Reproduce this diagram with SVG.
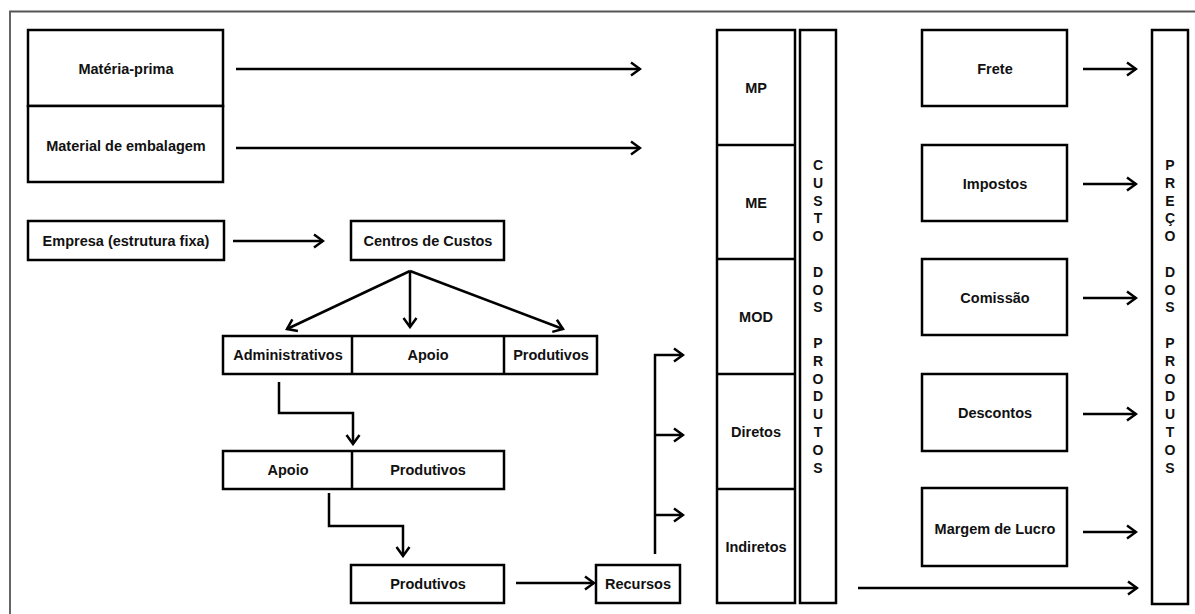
<svg xmlns="http://www.w3.org/2000/svg" width="1195" height="614" viewBox="0 0 1195 614">
<defs>
<style>
.box{fill:#fff;stroke:#000;stroke-width:2.5}
.div{stroke:#000;stroke-width:2.5}
.t{font-family:"Liberation Sans",Arial,sans-serif;font-weight:bold;font-size:14.5px;fill:#111;text-anchor:middle;dominant-baseline:central}
.v{font-family:"Liberation Sans",Arial,sans-serif;font-weight:bold;font-size:14px;fill:#111;text-anchor:middle}
.c{fill:none;stroke:#000;stroke-width:2.5;marker-end:url(#ah)}
.cn{fill:none;stroke:#000;stroke-width:2.5}
</style>
<marker id="ah" markerUnits="userSpaceOnUse" markerWidth="14" markerHeight="16" viewBox="-12 -8 14 16" refX="0" refY="0" orient="auto">
<path d="M-9,-6.5 L0,0 L-9,6.5" fill="none" stroke="#000" stroke-width="2.5"/>
</marker>
</defs>
<rect width="1195" height="614" fill="#fff"/>
<path d="M10,614 V11.5 H1195" fill="none" stroke="#555" stroke-width="1.8"/>

<g id="n-materia-prima"><rect class="box" x="28" y="30" width="195" height="76"/><text class="t" x="126" y="69">Matéria-prima</text></g>
<g id="n-material-embalagem"><rect class="box" x="28" y="106" width="195" height="76"/><text class="t" x="126" y="146">Material de embalagem</text></g>
<g id="n-empresa"><rect class="box" x="28" y="221" width="196" height="39"/><text class="t" x="126" y="241">Empresa (estrutura fixa)</text></g>
<g id="n-centros"><rect class="box" x="351" y="221" width="153" height="39"/><text class="t" x="428" y="241">Centros de Custos</text></g>

<g id="n-row1">
<rect class="box" x="223" y="336" width="374" height="38"/>
<line class="div" x1="352" y1="336" x2="352" y2="374"/>
<line class="div" x1="504" y1="336" x2="504" y2="374"/>
<text class="t" x="288" y="355">Administrativos</text>
<text class="t" x="428" y="355">Apoio</text>
<text class="t" x="551" y="355">Produtivos</text>
</g>
<g id="n-row2">
<rect class="box" x="223" y="451" width="281" height="38"/>
<line class="div" x1="352" y1="451" x2="352" y2="489"/>
<text class="t" x="288" y="470">Apoio</text>
<text class="t" x="428" y="470">Produtivos</text>
</g>
<g id="n-produtivos"><rect class="box" x="351" y="565" width="153" height="38"/><text class="t" x="428" y="584">Produtivos</text></g>
<g id="n-recursos"><rect class="box" x="596" y="565" width="84" height="38"/><text class="t" x="638" y="584">Recursos</text></g>

<g id="n-componentes">
<rect class="box" x="717" y="30" width="78" height="573"/>
<line class="div" x1="717" y1="145" x2="795" y2="145"/>
<line class="div" x1="717" y1="259" x2="795" y2="259"/>
<line class="div" x1="717" y1="374" x2="795" y2="374"/>
<line class="div" x1="717" y1="489" x2="795" y2="489"/>
<text class="t" x="756" y="88">MP</text>
<text class="t" x="756" y="203">ME</text>
<text class="t" x="756" y="317">MOD</text>
<text class="t" x="756" y="432">Diretos</text>
<text class="t" x="756" y="547">Indiretos</text>
</g>

<g id="n-custo">
<rect class="box" x="800" y="30" width="36" height="573"/>
<text class="v" x="818" y="170"><tspan x="818">C</tspan><tspan x="818" dy="17.8">U</tspan><tspan x="818" dy="17.8">S</tspan><tspan x="818" dy="17.8">T</tspan><tspan x="818" dy="17.8">O</tspan><tspan x="818" dy="35.6">D</tspan><tspan x="818" dy="17.8">O</tspan><tspan x="818" dy="17.8">S</tspan><tspan x="818" dy="35.6">P</tspan><tspan x="818" dy="17.8">R</tspan><tspan x="818" dy="17.8">O</tspan><tspan x="818" dy="17.8">D</tspan><tspan x="818" dy="17.8">U</tspan><tspan x="818" dy="17.8">T</tspan><tspan x="818" dy="17.8">O</tspan><tspan x="818" dy="17.8">S</tspan></text>
</g>

<g id="n-frete"><rect class="box" x="922" y="30" width="145" height="76"/><text class="t" x="995" y="69">Frete</text></g>
<g id="n-impostos"><rect class="box" x="922" y="145" width="145" height="76"/><text class="t" x="995" y="184">Impostos</text></g>
<g id="n-comissao"><rect class="box" x="922" y="259" width="145" height="76"/><text class="t" x="995" y="298">Comissão</text></g>
<g id="n-descontos"><rect class="box" x="922" y="374" width="145" height="77"/><text class="t" x="995" y="413">Descontos</text></g>
<g id="n-margem"><rect class="box" x="922" y="488" width="145" height="78"/><text class="t" x="995" y="529">Margem de Lucro</text></g>

<g id="n-preco">
<rect class="box" x="1152" y="30" width="36" height="574"/>
<text class="v" x="1170" y="170"><tspan x="1170">P</tspan><tspan x="1170" dy="17.8">R</tspan><tspan x="1170" dy="17.8">E</tspan><tspan x="1170" dy="17.8">Ç</tspan><tspan x="1170" dy="17.8">O</tspan><tspan x="1170" dy="35.6">D</tspan><tspan x="1170" dy="17.8">O</tspan><tspan x="1170" dy="17.8">S</tspan><tspan x="1170" dy="35.6">P</tspan><tspan x="1170" dy="17.8">R</tspan><tspan x="1170" dy="17.8">O</tspan><tspan x="1170" dy="17.8">D</tspan><tspan x="1170" dy="17.8">U</tspan><tspan x="1170" dy="17.8">T</tspan><tspan x="1170" dy="17.8">O</tspan><tspan x="1170" dy="17.8">S</tspan></text>
</g>

<g id="connectors">
<line class="c" x1="236" y1="69" x2="640" y2="69"/>
<line class="c" x1="236" y1="148" x2="640" y2="148"/>
<line class="c" x1="233" y1="241" x2="323" y2="241"/>
<line class="c" x1="410" y1="271" x2="287" y2="329"/>
<line class="c" x1="410" y1="271" x2="410" y2="327"/>
<line class="c" x1="410" y1="271" x2="563" y2="329"/>
<polyline class="c" points="279,382 279,413 353,413 353,444"/>
<polyline class="c" points="329,493 329,526 403,526 403,556"/>
<line class="c" x1="516" y1="583" x2="594" y2="583"/>
<line class="cn" x1="655" y1="554" x2="655" y2="354"/>
<line class="c" x1="654" y1="355" x2="683" y2="355"/>
<line class="c" x1="654" y1="435" x2="683" y2="435"/>
<line class="c" x1="654" y1="515" x2="683" y2="515"/>
<line class="c" x1="1083" y1="69" x2="1136" y2="69"/>
<line class="c" x1="1083" y1="184" x2="1136" y2="184"/>
<line class="c" x1="1083" y1="298" x2="1136" y2="298"/>
<line class="c" x1="1083" y1="414" x2="1136" y2="414"/>
<line class="c" x1="1083" y1="532" x2="1136" y2="532"/>
<line class="c" x1="858" y1="588" x2="1137" y2="588"/>
</g>
</svg>
